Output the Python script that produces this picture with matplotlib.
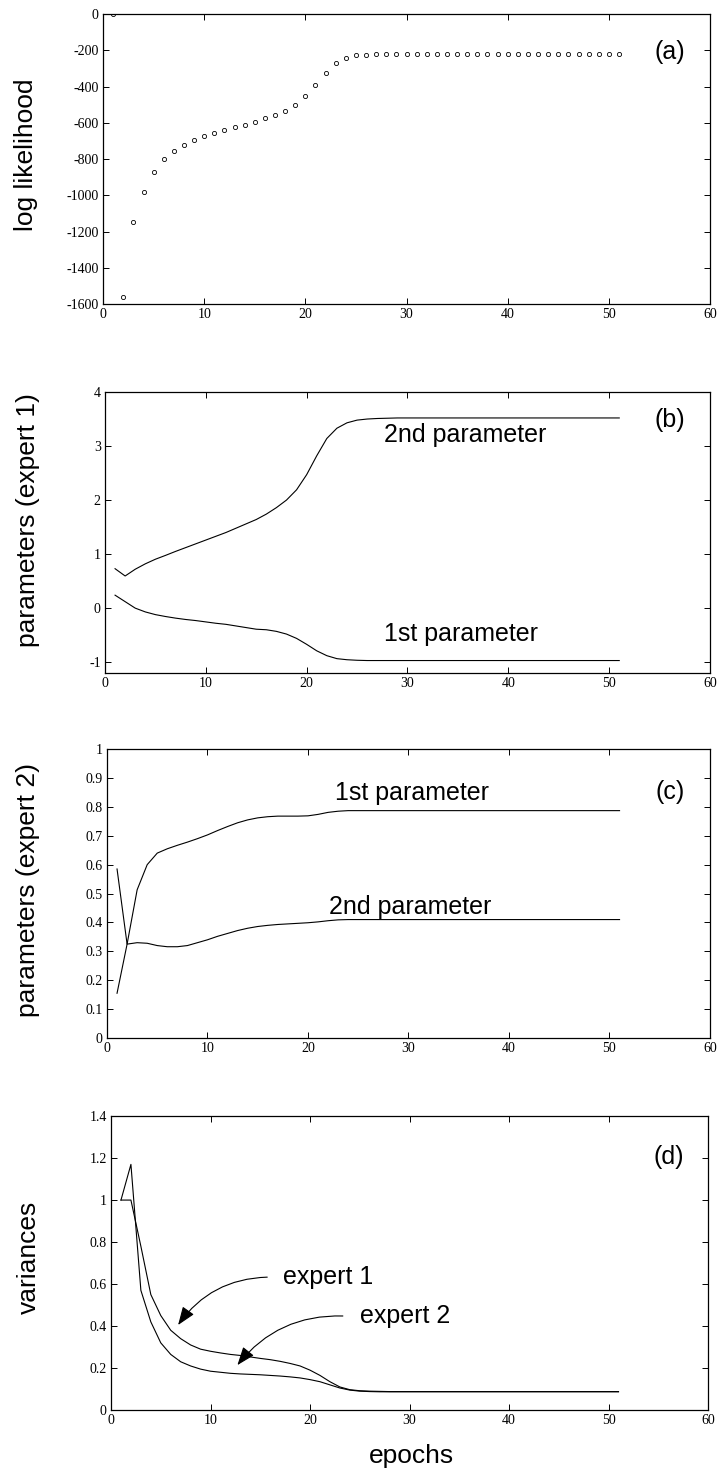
import matplotlib
matplotlib.use("Agg")
import matplotlib.pyplot as plt

plt.rcParams['axes.unicode_minus'] = False

# epochs 1..51
epochs = list(range(1, 52))

# (a) log likelihood per epoch
loglik = [0, -1560, -1148, -979, -869, -797, -753, -720, -693, -671,
          -654, -638, -621, -610, -594, -576, -555, -533, -500, -451,
          -390, -324, -269, -242, -226, -224, -221, -220, -220, -220,
          -220, -220, -220, -220, -220, -220, -220, -220, -220, -220,
          -220, -220, -220, -220, -220, -220, -220, -220, -220, -220,
          -220]

# (b) parameters of expert 1
e1_p1 = [0.24, 0.12, 0.0, -0.07, -0.12, -0.155, -0.185, -0.21, -0.23, -0.255,
         -0.28, -0.30, -0.33, -0.36, -0.39, -0.40, -0.43, -0.48, -0.56, -0.67,
         -0.79, -0.88, -0.935, -0.955, -0.965, -0.97, -0.97, -0.97, -0.97, -0.97,
         -0.97, -0.97, -0.97, -0.97, -0.97, -0.97, -0.97, -0.97, -0.97, -0.97,
         -0.97, -0.97, -0.97, -0.97, -0.97, -0.97, -0.97, -0.97, -0.97, -0.97,
         -0.97]
e1_p2 = [0.73, 0.595, 0.72, 0.82, 0.905, 0.976, 1.05, 1.12, 1.19, 1.26,
         1.33, 1.40, 1.48, 1.56, 1.64, 1.74, 1.86, 2.0, 2.19, 2.47,
         2.82, 3.14, 3.33, 3.43, 3.48, 3.50, 3.51, 3.515, 3.52, 3.52,
         3.52, 3.52, 3.52, 3.52, 3.52, 3.52, 3.52, 3.52, 3.52, 3.52,
         3.52, 3.52, 3.52, 3.52, 3.52, 3.52, 3.52, 3.52, 3.52, 3.52,
         3.52]

# (c) parameters of expert 2
e2_p1 = [0.155, 0.325, 0.513, 0.60, 0.64, 0.655, 0.667, 0.678, 0.69, 0.703,
         0.718, 0.732, 0.745, 0.755, 0.762, 0.766, 0.768, 0.768, 0.768, 0.769,
         0.774, 0.781, 0.785, 0.787, 0.787, 0.787, 0.787, 0.787, 0.787, 0.787,
         0.787, 0.787, 0.787, 0.787, 0.787, 0.787, 0.787, 0.787, 0.787, 0.787,
         0.787, 0.787, 0.787, 0.787, 0.787, 0.787, 0.787, 0.787, 0.787, 0.787,
         0.787]
e2_p2 = [0.585, 0.325, 0.33, 0.328, 0.32, 0.316, 0.316, 0.32, 0.33, 0.34,
         0.352, 0.362, 0.372, 0.38, 0.386, 0.39, 0.393, 0.395, 0.397, 0.399,
         0.402, 0.406, 0.409, 0.41, 0.41, 0.41, 0.41, 0.41, 0.41, 0.41,
         0.41, 0.41, 0.41, 0.41, 0.41, 0.41, 0.41, 0.41, 0.41, 0.41,
         0.41, 0.41, 0.41, 0.41, 0.41, 0.41, 0.41, 0.41, 0.41, 0.41,
         0.41]

# (d) variances
var_e1 = [1.0, 1.0, 0.78, 0.55, 0.45, 0.38, 0.34, 0.31, 0.29, 0.28,
          0.272, 0.265, 0.26, 0.253, 0.246, 0.24, 0.232, 0.222, 0.21, 0.19,
          0.165, 0.135, 0.11, 0.097, 0.092, 0.09, 0.089, 0.088, 0.088, 0.088,
          0.088, 0.088, 0.088, 0.088, 0.088, 0.088, 0.088, 0.088, 0.088, 0.088,
          0.088, 0.088, 0.088, 0.088, 0.088, 0.088, 0.088, 0.088, 0.088, 0.088,
          0.088]
var_e2 = [1.0, 1.17, 0.57, 0.42, 0.32, 0.265, 0.23, 0.21, 0.195, 0.185,
          0.18, 0.175, 0.172, 0.17, 0.168, 0.165, 0.162, 0.158, 0.153, 0.145,
          0.135, 0.12, 0.105, 0.095, 0.09, 0.088, 0.087, 0.087, 0.087, 0.087,
          0.087, 0.087, 0.087, 0.087, 0.087, 0.087, 0.087, 0.087, 0.087, 0.087,
          0.087, 0.087, 0.087, 0.087, 0.087, 0.087, 0.087, 0.087, 0.087, 0.087,
          0.087]

serif = 'Liberation Serif'
sans = 'Liberation Sans'
big = 18

fig = plt.figure(figsize=(7.2, 14.81), dpi=100)

ax_a = fig.add_axes([0.1431, 0.7947, 0.8431, 0.1958])
ax_b = fig.add_axes([0.1458, 0.5456, 0.8403, 0.1897])
ax_c = fig.add_axes([0.1486, 0.2991, 0.8375, 0.1951])
ax_d = fig.add_axes([0.1542, 0.0479, 0.8292, 0.1985])


def style(ax, ylim, yticks, ylabels):
    ax.set_xlim(0, 60)
    ax.set_ylim(*ylim)
    ax.set_xticks(range(0, 61, 10))
    ax.set_yticks(yticks)
    ax.set_yticklabels(ylabels)
    ax.tick_params(direction='in', top=True, right=True, length=4, width=0.7,
                   labelsize=10, pad=3)
    for lab in ax.get_xticklabels() + ax.get_yticklabels():
        lab.set_family(serif)
    for sp in ax.spines.values():
        sp.set_linewidth(0.9)


# (a)
ax_a.plot(epochs, loglik, linestyle='none', marker='o', markersize=3,
          markerfacecolor='none', markeredgecolor='black', markeredgewidth=0.6)
style(ax_a, (-1600, 0), range(-1600, 1, 200),
      [str(v) for v in range(-1600, 1, 200)])
ax_a.text(0.934, 0.87, '(a)', transform=ax_a.transAxes, family=sans,
          fontsize=big, ha='center', va='center')

# (b)
ax_b.plot(epochs, e1_p1, color='black', lw=0.8)
ax_b.plot(epochs, e1_p2, color='black', lw=0.8)
style(ax_b, (-1.2, 4), range(-1, 5), [str(v) for v in range(-1, 5)])
ax_b.text(27.7, 3.21, '2nd parameter', family=sans, fontsize=big, va='center')
ax_b.text(27.7, -0.48, '1st parameter', family=sans, fontsize=big, va='center')
ax_b.text(0.934, 0.90, '(b)', transform=ax_b.transAxes, family=sans,
          fontsize=big, ha='center', va='center')

# (c)
ax_c.plot(epochs, e2_p1, color='black', lw=0.8)
ax_c.plot(epochs, e2_p2, color='black', lw=0.8)
c_ticks = [i / 10 for i in range(11)]
c_labels = ['0', '0.1', '0.2', '0.3', '0.4', '0.5', '0.6', '0.7', '0.8', '0.9', '1']
style(ax_c, (0, 1), c_ticks, c_labels)
ax_c.text(22.7, 0.848, '1st parameter', family=sans, fontsize=big, va='center')
ax_c.text(22.1, 0.453, '2nd parameter', family=sans, fontsize=big, va='center')
ax_c.text(0.934, 0.85, '(c)', transform=ax_c.transAxes, family=sans,
          fontsize=big, ha='center', va='center')

# (d)
ax_d.plot(epochs, var_e1, color='black', lw=0.8)
ax_d.plot(epochs, var_e2, color='black', lw=0.8)
d_ticks = [i / 5 for i in range(8)]
d_labels = ['0', '0.2', '0.4', '0.6', '0.8', '1', '1.2', '1.4']
style(ax_d, (0, 1.4), d_ticks, d_labels)
arrow = dict(arrowstyle='-|>,head_length=0.8,head_width=0.3', color='black',
             lw=0.8, mutation_scale=14, connectionstyle='arc3,rad=0.25',
             shrinkA=0, shrinkB=0)
ax_d.annotate('', xy=(6.74, 0.405), xytext=(15.7, 0.633), arrowprops=arrow)
ax_d.annotate('', xy=(12.7, 0.214), xytext=(23.3, 0.448), arrowprops=arrow)
ax_d.text(17.3, 0.633, 'expert 1', family=sans, fontsize=big, va='center')
ax_d.text(25.0, 0.448, 'expert 2', family=sans, fontsize=big, va='center')
ax_d.text(0.934, 0.86, '(d)', transform=ax_d.transAxes, family=sans,
          fontsize=big, ha='center', va='center')

# axis titles
fig.text(26 / 720, 1 - 155 / 1481, 'log likelihood', rotation=90, family=sans,
         fontsize=big + 1, ha='center', va='center')
fig.text(28 / 720, 1 - 520 / 1481, 'parameters (expert 1)', rotation=90,
         family=sans, fontsize=big + 1, ha='center', va='center')
fig.text(28 / 720, 1 - 890 / 1481, 'parameters (expert 2)', rotation=90,
         family=sans, fontsize=big + 1, ha='center', va='center')
fig.text(29 / 720, 1 - 1257 / 1481, 'variances', rotation=90, family=sans,
         fontsize=big + 1, ha='center', va='center')
fig.text(411 / 720, 1 - 1456 / 1481, 'epochs', family=sans, fontsize=big + 1,
         ha='center', va='center')

fig.savefig('out.png', dpi=100)
